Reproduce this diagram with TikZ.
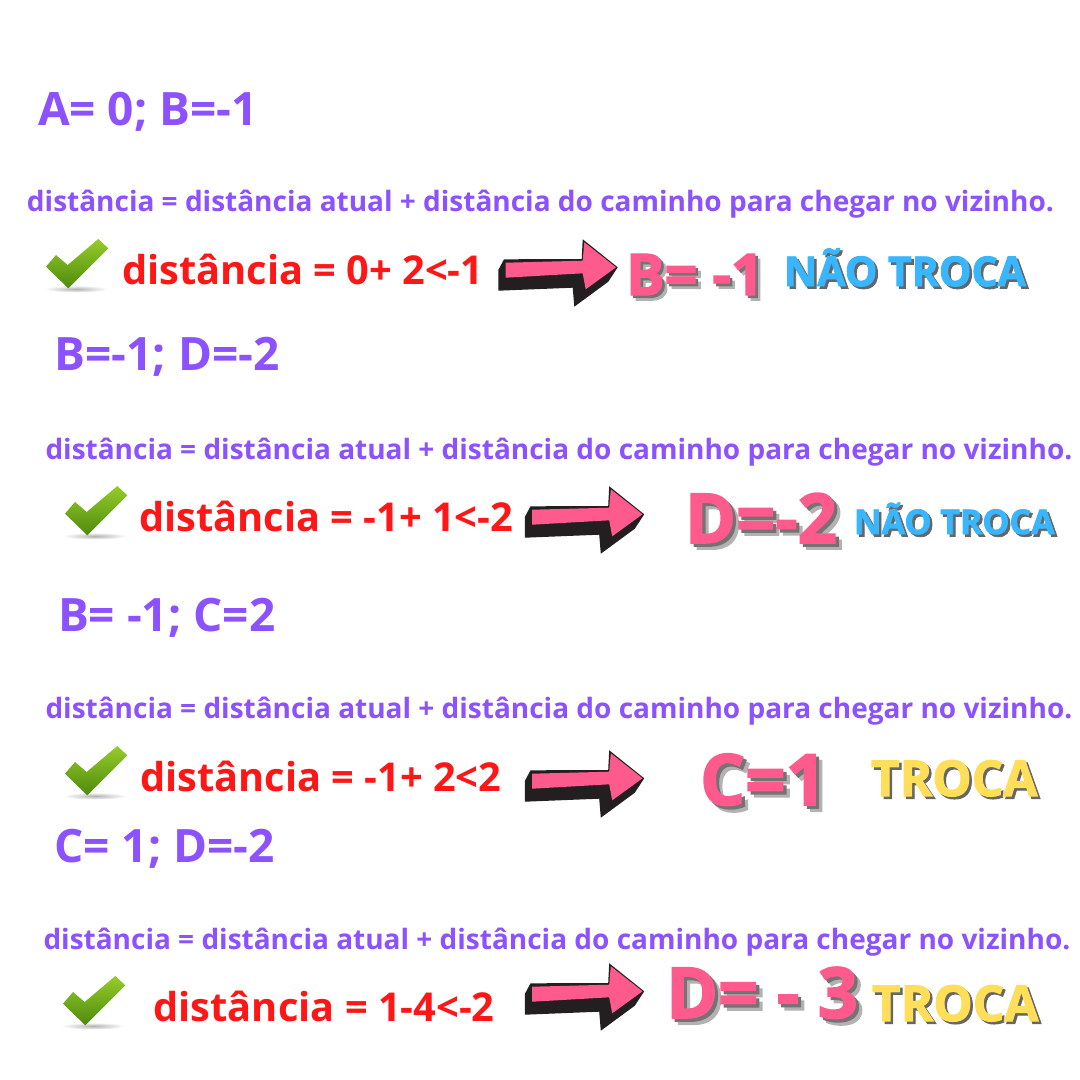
\documentclass[tikz,border=0pt]{standalone}
\usepackage{fontspec}
\setmainfont{Open Sans}[BoldFont={Open Sans Bold}]
\newfontfamily\heavyfont{Open Sans}[BoldFont={Open Sans Bold},BoldFeatures={FakeBold=2.2}]
\definecolor{purp}{HTML}{8C52FF}
\definecolor{redt}{HTML}{FF1616}
\definecolor{pinkt}{HTML}{FF5A8E}
\definecolor{bluet}{HTML}{38B6FF}
\definecolor{yelt}{HTML}{FFDE59}
\definecolor{arrowk}{HTML}{231F20}
\definecolor{chkl}{HTML}{96CC2A}
\definecolor{chkd}{HTML}{4E8A0E}
\tikzset{
  x=1pt,y=-1pt,
  lbl/.style={anchor=base west,inner sep=0pt,outer sep=0pt},
  headt/.style={lbl,text=purp,font=\fontsize{46}{46}\selectfont\bfseries},
  formt/.style={lbl,text=purp,font=\fontsize{28}{28}\selectfont\bfseries},
  calct/.style={lbl,text=redt,font=\fontsize{39.8}{40}\selectfont\bfseries},
}
% name, x, y, size, colour, text
\newcommand{\heavy}[6]{%
  \node[lbl,text=black!30,font=\fontsize{#4}{#4}\heavyfont\bfseries] (#1s2) at (#2+#4*0.09,#3+#4*0.09) {#6};
  \node[lbl,text=black!55,font=\fontsize{#4}{#4}\heavyfont\bfseries] (#1s1) at (#2+#4*0.045,#3+#4*0.045) {#6};
  \node[lbl,text=#5,font=\fontsize{#4}{#4}\heavyfont\bfseries] (#1) at (#2,#3) {#6};}
\newcommand{\heavyb}[6]{%
  \node[lbl,text=black!60,font=\fontsize{#4}{#4}\heavyfont\bfseries] (#1s1) at (#2+2.5,#3+2.5) {#6};
  \node[lbl,text=#5,font=\fontsize{#4}{#4}\heavyfont\bfseries] (#1) at (#2,#3) {#6};}
\newcommand{\arrowshape}[2]{%
  \begin{scope}[shift={(#1,#2)}]
    \fill[arrowk] (504,259.3) -- (498.3,270) -- (498.3,290.7) -- (572.7,287.7) -- (574.3,306.7) -- (608.3,281.7) -- (617.7,267.3) -- (582.7,239.3) -- (581.7,259) -- cycle;
    \fill[pinkt] (505.7,262.7) -- (582.7,260.7) -- (584.3,242.3) -- (616,267.3) -- (585.7,289.3) -- (582.7,273.3) -- (505.7,277.7) -- cycle;
  \end{scope}}
\newcommand{\checkshape}[2]{%
  \begin{scope}[shift={(#1,#2)}]
    \shade[inner color=black!30,outer color=white] (76,289) ellipse (32 and 3.5);
    \shade[top color=chkl,bottom color=chkd] (46,266.7) -- (56,255) -- (67.7,265) -- (98.3,239) -- (108.3,248.3) -- (68.3,288.3) -- cycle;
  \end{scope}}
\begin{document}
\begin{tikzpicture}
\useasboundingbox (0,0) rectangle (1080,1080);
\fill[white] (0,0) rectangle (1080,1080);

\node[headt] (h1) at (38,125) {A= 0; B=-1};
\node[formt] (f1) at (27,211) {distância = distância atual + distância do caminho para chegar no vizinho.};
\checkshape{0}{0}
\node[calct] (c1) at (122,284) {distância = 0+ 2<-1};
\arrowshape{0}{0}
\heavy{r1}{626}{295}{57.5}{pinkt}{B= -1}
\heavyb{t1}{784}{286}{41}{bluet}{NÃO TROCA}

\node[headt] (h2) at (54.5,370) {B=-1; D=-2};
\node[formt] (f2) at (45.5,459) {distância = distância atual + distância do caminho para chegar no vizinho.};
\checkshape{19}{247}
\node[calct] (c2) at (139,531) {distância = -1+ 1<-2};
\arrowshape{26.5}{247}
\heavy{r2}{685}{543}{69}{pinkt}{D=-2}
\heavyb{t2}{854}{534}{34}{bluet}{NÃO TROCA}

\node[headt] (h3) at (58,631) {B= -1; C=2};
\node[formt] (f3) at (45.5,718) {distância = distância atual + distância do caminho para chegar no vizinho.};
\checkshape{19}{507}
\node[calct] (c3) at (140,791) {distância = -1+ 2<2};
\arrowshape{26.5}{511}
\heavy{r3}{700}{805}{71}{pinkt}{C=1}
\heavyb{t3}{871}{796}{49.5}{yelt}{TROCA}

\node[headt] (h4) at (54.5,862) {C= 1; D=-2};
\node[formt] (f4) at (43.5,949) {distância = distância atual + distância do caminho para chegar no vizinho.};
\checkshape{17}{737}
\node[calct] (c4) at (153.5,1021) {distância = 1-4<-2};
\arrowshape{26.5}{724}
\heavy{r4}{666}{1018}{70.5}{pinkt}{D= - 3}
\heavyb{t4}{872}{1021}{49.5}{yelt}{TROCA}
\end{tikzpicture}
\end{document}
